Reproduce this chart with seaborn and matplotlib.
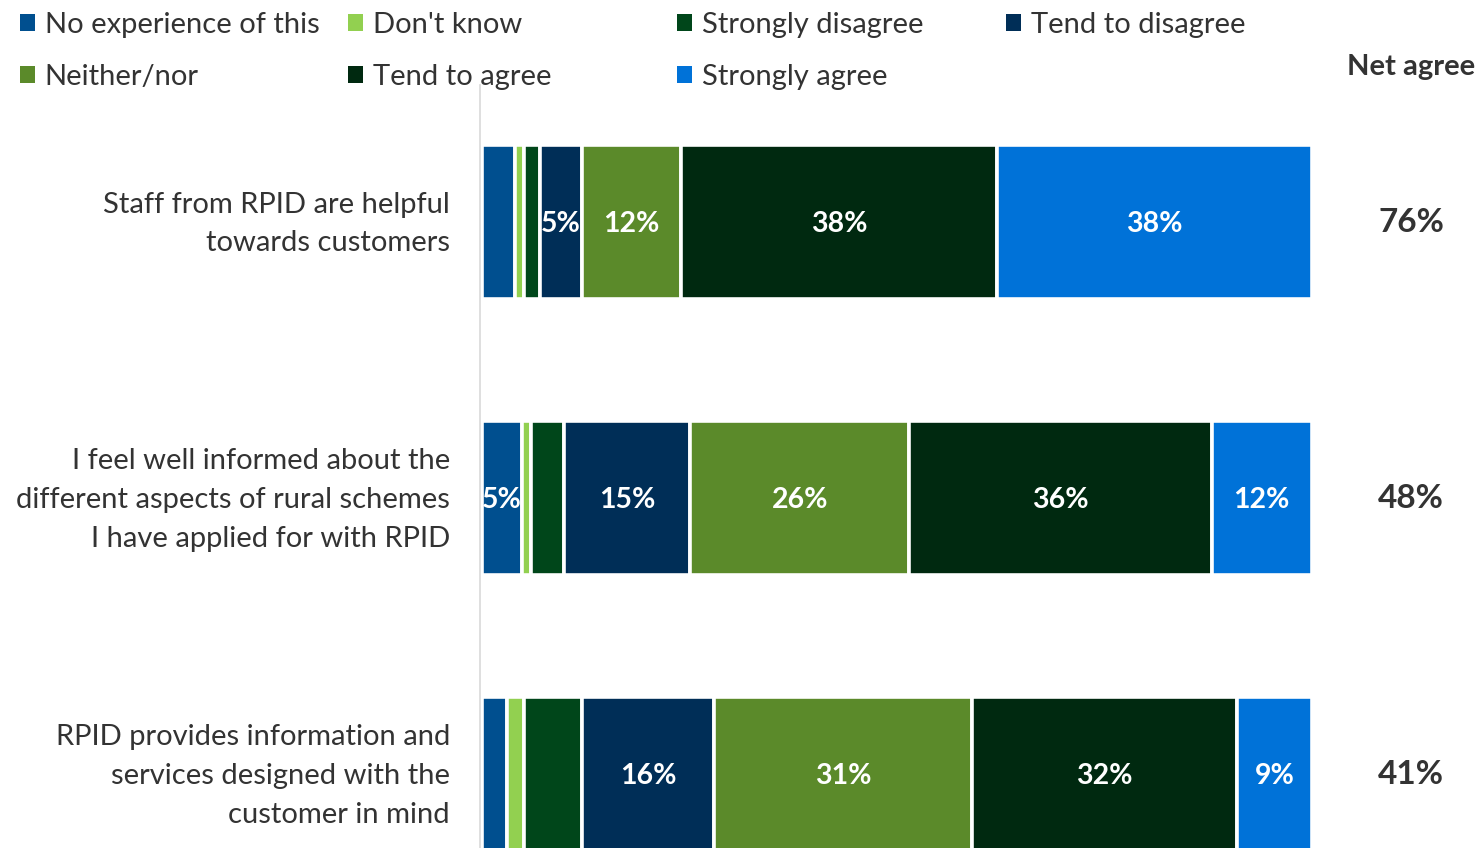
import matplotlib
matplotlib.use("Agg")
import matplotlib.pyplot as plt
import seaborn as sns
import pandas as pd
import numpy as np
from matplotlib.patches import Patch

sns.set_theme(style="white")
plt.rcParams['font.family'] = ['Lato', 'DejaVu Sans']

statements = [
    "Staff from RPID are helpful\ntowards customers",
    "I feel well informed about the\ndifferent aspects of rural schemes\nI have applied for with RPID",
    "RPID provides information and\nservices designed with the\ncustomer in mind",
]
series = ["No experience of this", "Don't know", "Strongly disagree", "Tend to disagree",
          "Neither/nor", "Tend to agree", "Strongly agree"]
no_experience = [4, 4.8, 3]
dont_know = [1, 1.1, 2]
strongly_disagree = [2, 4.0, 7]
tend_to_disagree = [5, 15.2, 16]
neither_nor = [12, 26.4, 31]
tend_to_agree = [38, 36.4, 32]
strongly_agree = [38, 12.1, 9]
net_agree = ["76%", "48%", "41%"]

colors = ["#004F8F", "#92D050", "#00461A", "#002E57", "#5B8A2A", "#002910", "#0072D8"]
labelled = [True, False, False, True, True, True, True]

df = pd.DataFrame({
    "statement": statements,
    series[0]: no_experience, series[1]: dont_know, series[2]: strongly_disagree,
    series[3]: tend_to_disagree, series[4]: neither_nor, series[5]: tend_to_agree,
    series[6]: strongly_agree,
})

fig = plt.figure(figsize=(14.8, 8.48), dpi=100)
ax = fig.add_axes([482 / 1480, 0.0, 830 / 1480, (848 - 85) / 848])

left = np.zeros(len(df))
for s, c, lab in zip(series, colors, labelled):
    vals = df[s].values
    sns.barplot(x=vals, y=np.arange(len(df)), left=left, orient="h", color=c,
                saturation=1, width=0.555, edgecolor="white", linewidth=2.6, ax=ax,
                native_scale=True)
    if lab:
        for i, v in enumerate(vals):
            if round(v) >= 5:
                ax.annotate(f"{round(v)}%", xy=(left[i] + v / 2, i), xycoords="data",
                            xytext=(0, -2), textcoords="offset pixels",
                            ha="center", va="center",
                            color="white", fontsize=20.5, fontweight="bold")
    left = left + vals

ax.set_xlim(0, 100)
ax.set_ylim((848 - 222) / 276, (85 - 222) / 276)
ax.set_xticks([])
ax.set_yticks([])
ax.set_xlabel("")
ax.set_ylabel("")
for sp in ["top", "right", "bottom"]:
    ax.spines[sp].set_visible(False)
ax.spines["left"].set_color("#D9D9D9")
ax.spines["left"].set_linewidth(1.2)
ax.spines["left"].set_position(("data", -0.25))

for i, st in enumerate(statements):
    ax.annotate(st, xy=(0, i), xycoords="data", xytext=(-32, -2), textcoords="offset pixels",
                ha="right", va="center", fontsize=21, color="#333333", linespacing=1.6)
    ax.annotate(net_agree[i], xy=(100, i), xycoords="data", xytext=(99, -1),
                textcoords="offset pixels", ha="center", va="center",
                fontsize=24, fontweight="bold", color="#333333")

fig.text(1411 / 1480, 1 - 67 / 848, "Net agree", ha="center", va="center",
         fontsize=21, fontweight="bold", color="#333333")

# legend: four equal-width columns
handles = [Patch(facecolor=c, edgecolor="none") for c in colors]
columns = [[0, 4], [1, 5], [2, 6], [3]]
col_x = [20, 348, 677, 1006]
for cx, idx in zip(col_x, columns):
    fig.legend([handles[k] for k in idx], [series[k] for k in idx],
               loc="upper left", bbox_to_anchor=(cx / 1480, 1 - 12 / 848), frameon=False,
               fontsize=21, handlelength=0.5, handleheight=0.5, handletextpad=0.35,
               labelspacing=0.88, borderpad=0, borderaxespad=0, labelcolor="#333333")

fig.savefig("out.png", dpi=100)
